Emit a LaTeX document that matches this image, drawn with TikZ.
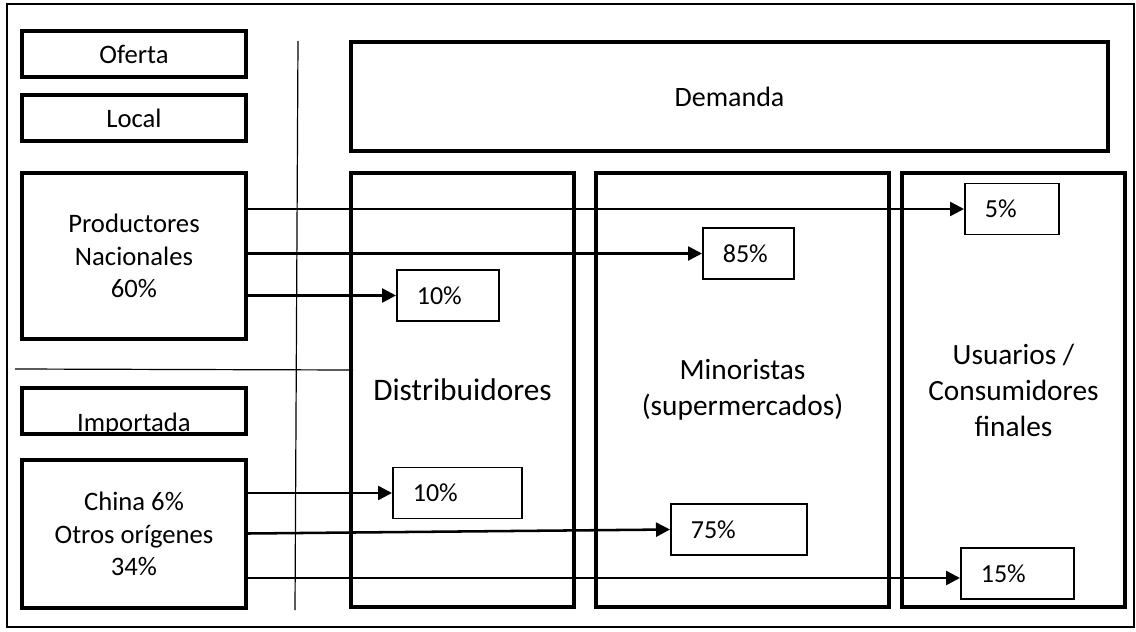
\documentclass[tikz,border=0pt]{standalone}
\usepackage{fontspec}
\setmainfont{Carlito}
\usetikzlibrary{arrows.meta,calc}

\tikzset{
  box/.style={draw, line width=3pt, inner sep=0pt, align=center,
    font=\fontsize{20}{24.5}\selectfont},
  column/.style={box, minimum width=#1, minimum height=325.5pt,
    font=\fontsize{22}{27}\selectfont},
  pct/.style={draw, line width=1.3pt, inner xsep=15pt, inner ysep=0pt,
    minimum height=38.25pt, text width=#1, align=left, anchor=west,
    font=\fontsize{19.5}{24}\selectfont},
  flow/.style={line width=1.9pt, -{Triangle[length=10.5pt,width=10.5pt]}},
  divider/.style={line width=0.9pt}
}

\begin{document}
\begin{tikzpicture}[x=0.75pt,y=-0.75pt]

\useasboundingbox (0,0) rectangle (1136,632);

%frame
\draw[line width=1.6pt] (7,4) rectangle (1134,627);

%dividers
\coordinate (V)  at (298,41);
\coordinate (V') at (295,610);
\coordinate (H)  at (15,369);
\coordinate (H') at (353,370);
\draw[divider] (V) -- (V');
\draw[divider] (H) -- (H');

%supply side
\node[box, minimum width=168pt, minimum height=34.5pt] (oferta) at (134,54) {Oferta};
\node[box, minimum width=168pt, minimum height=34.5pt] (local)  at (134,118) {Local};
\node[box, minimum width=168pt, minimum height=124.5pt] (prod)  at (134,256)
  {Productores\\Nacionales\\60\%};
\node[box, minimum width=168pt, minimum height=34.5pt] (importada) at (134,411) {};
\begin{scope}
  \clip (importada.south west) rectangle (importada.north east);
  \node[anchor=base, inner sep=0pt, font=\fontsize{20}{24}\selectfont]
    (importadatxt) at (134,431) {Importada};
\end{scope}
\node[box, minimum width=168pt, minimum height=111pt] (china) at (134,534)
  {China 6\%\\Otros orígenes\\34\%};

%demand side
\node[box, minimum width=567.75pt, minimum height=81.75pt,
  font=\fontsize{21}{25}\selectfont] (demanda) at (729.5,96.5) {Demanda};
\node[column=167pt, font=\fontsize{23.5}{27}\selectfont] (dist) at (462.5,390) {Distribuidores};
\node[column=219.75pt] (mino) at (742.5,390) {Minoristas\\(supermercados)};
\node[column=167pt]    (usu)  at (1013.5,390) {Usuarios /\\Consumidores\\finales};

%shares
\node[pct=40.5pt]  (p5)   at (964,209)   {5\%};
\node[pct=38.25pt] (p85)  at (702,253.5) {85\%};
\node[pct=46.5pt]  (p10a) at (396,295.5) {10\%};
\node[pct=66.75pt] (p10b) at (392,493)   {10\%};
\node[pct=72pt]    (p75)  at (670,529.5) {75\%};
\node[pct=54.75pt] (p15)  at (960,573.5) {15\%};

%flows
\coordinate (s75) at ($(china.east |- p75.west)+(0,4)$);
\coordinate (t15) at ($(p15.west)+(0,4.5)$);
\draw[flow] (prod.east |- p5.west)    -- (p5.west);
\draw[flow] (prod.east |- p85.west)   -- (p85.west);
\draw[flow] (prod.east |- p10a.west)  -- (p10a.west);
\draw[flow] (china.east |- p10b.west) -- (p10b.west);
\draw[flow] (s75) -- (p75.west);
\draw[flow] (china.east |- t15) -- (t15);

\end{tikzpicture}
\end{document}
